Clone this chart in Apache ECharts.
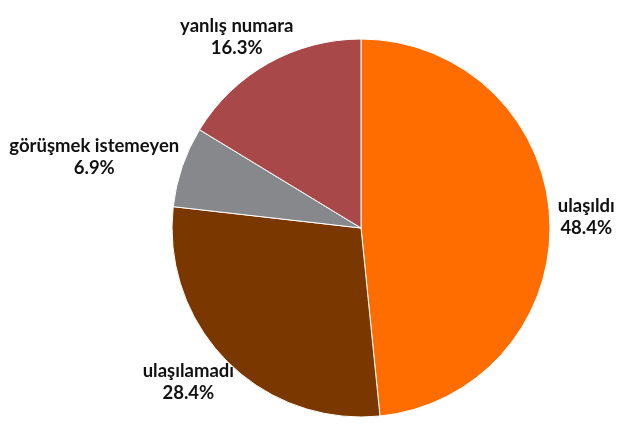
<!DOCTYPE html>
<html>
<head>
<meta charset="utf-8">
<script src="https://cdn.jsdelivr.net/npm/echarts@6/dist/echarts.min.js"></script>
<style>
  html, body { margin: 0; padding: 0; background: #fff; }
  #pie { width: 630px; height: 429px; }
</style>
</head>
<body>
<div id="pie"></div>
<script>
// dilimler (saat yönünde, tepeden başlayarak)
var names = ['ulaşıldı', 'ulaşılamadı', 'görüşmek istemeyen', 'yanlış numara'];
var values = [48.4, 28.4, 6.9, 16.3];
var colors = ['#FF6C00', '#7A3800', '#87888B', '#A84848'];

(function(){

var pie = echarts.init(document.getElementById('pie'));

var data = [];
for (var i = 0; i < names.length; i++) {
    data.push({ value: values[i], name: names[i], itemStyle: { color: colors[i] } });
}

option = {
    animation: false,
    series : [
        {
            type: 'pie',
            radius : 189,
            center: [361, 228],
            startAngle: 90,
            clockwise: true,
            data: data,
            itemStyle: {
                borderColor: '#fff',
                borderWidth: 1
            },
            label: {
                position: 'outside',
                fontFamily: 'Lato',
                fontWeight: 'bold',
                fontSize: 18.5,
                lineHeight: 22,
                color: '#111',
                overflow: 'none',
                edgeDistance: 0,
                formatter: function(p){ return p.name + '\n' + p.value.toFixed(1) + '%'; }
            },
            labelLine: {
                show: false,
                length: 8,
                length2: 0
            },
            // etiketi, dilim yönünde kutunun yarısı kadar dışarı itip ortala (Excel gibi)
            labelLayout: function(params){
                var r = params.labelRect;
                var pts = params.labelLinePoints;
                if (!pts) return {};
                var dx = pts[1][0] - pts[0][0], dy = pts[1][1] - pts[0][1];
                var len = Math.sqrt(dx * dx + dy * dy) || 1;
                dx /= len; dy /= len;
                return {
                    x: pts[1][0] + dx * r.width / 2,
                    y: pts[1][1] + dy * r.height / 2,
                    align: 'center',
                    verticalAlign: 'middle'
                };
            }
        }
    ]
};

pie.setOption(option);
})();
</script>
</body>
</html>
